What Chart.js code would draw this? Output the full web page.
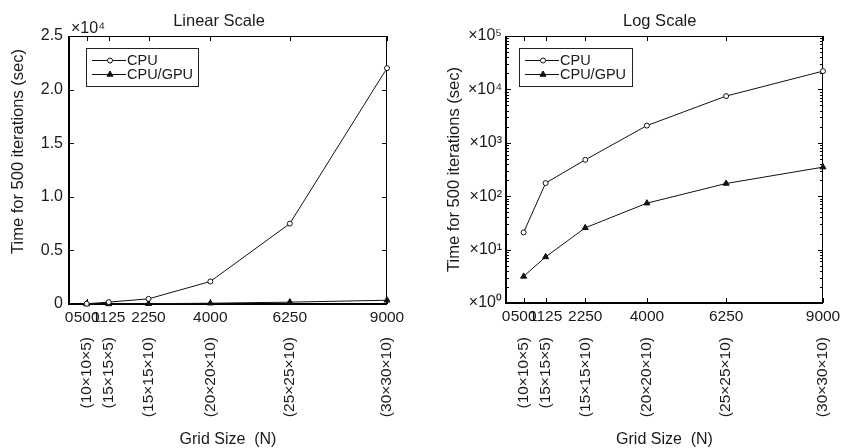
<!DOCTYPE html>
<html>
<head>
<meta charset="utf-8">
<script src="https://cdn.jsdelivr.net/npm/chart.js@4/dist/chart.umd.min.js"></script>
<style>
  html, body { margin: 0; padding: 0; background: #fff; }
  #wrap { display: flex; width: 842px; height: 448px; }
  canvas { display: block; }
</style>
</head>
<body>
<div id="wrap">
  <canvas id="linChart" width="421" height="448"></canvas>
  <canvas id="logChart" width="421" height="448"></canvas>
</div>
<script>
// ---- data ----
const gridN = [500, 1125, 2250, 4000, 6250, 9000];
const gridDims = ['(10×10×5)', '(15×15×5)', '(15×15×10)', '(20×20×10)', '(25×25×10)', '(30×30×10)'];
const cpuTime = [21, 176, 480, 2100, 7500, 22000];
const gpuTime = [3.15, 7.3, 25.6, 74, 173, 350];
const seriesNames = ['CPU', 'CPU/GPU'];
const xTickValues = [0, 500, 1125, 2250, 4000, 6250, 9000];
const linTicks = [0, 5000, 10000, 15000, 20000, 25000];
const logTicks = [1, 10, 100, 1000, 10000, 100000];

const FONT = "'Liberation Sans', Arial, sans-serif";
Chart.defaults.font.family = FONT;
Chart.defaults.color = '#1a1a1a';
Chart.defaults.animation = false;

const SUP = '⁰¹²³⁴⁵⁶⁷⁸⁹';
const pow10Label = v => '×10' + String(Math.round(Math.log10(v))).split('').map(d => SUP[+d]).join('');

const seriesPoints = ys => gridN.map((n, i) => ({ x: n, y: ys[i] }));

function makeDatasets() {
  return [
    {
      label: seriesNames[0], data: seriesPoints(cpuTime),
      borderColor: '#111', borderWidth: 1,
      pointStyle: 'circle', pointRadius: 2.5,
      pointBackgroundColor: '#fff', pointBorderColor: '#111', pointBorderWidth: 1
    },
    {
      label: seriesNames[1], data: seriesPoints(gpuTime),
      borderColor: '#111', borderWidth: 1,
      pointStyle: 'triangle', pointRadius: 3.5,
      pointBackgroundColor: '#111', pointBorderColor: '#111', pointBorderWidth: 1
    }
  ];
}

// box, inward ticks, titles and the boxed legend
const decor = {
  id: 'decor',
  beforeDatasetsDraw(chart, args, o) {
    const { ctx, chartArea: a } = chart;
    const xs = chart.scales.x, ys = chart.scales.y;
    ctx.save();
    ctx.strokeStyle = '#000';
    ctx.lineWidth = 1;
    ctx.beginPath();
    ctx.moveTo(a.left, a.top + 0.5); ctx.lineTo(a.right, a.top + 0.5);
    ctx.moveTo(a.right - 0.5, a.top); ctx.lineTo(a.right - 0.5, a.bottom);
    xs.ticks.forEach(t => {
      const px = Math.round(xs.getPixelForValue(t.value)) + 0.5;
      ctx.moveTo(px, a.bottom); ctx.lineTo(px, a.bottom - 5);
      ctx.moveTo(px, a.top); ctx.lineTo(px, a.top + 5);
    });
    const yTick = (v, len) => {
      const py = Math.round(ys.getPixelForValue(v)) + 0.5;
      ctx.moveTo(a.left, py); ctx.lineTo(a.left + len, py);
      ctx.moveTo(a.right, py); ctx.lineTo(a.right - len, py);
    };
    ys.ticks.forEach(t => yTick(t.value, 5));
    if (ys.type === 'logarithmic') {
      for (let d = ys.min; d < ys.max; d *= 10) {
        for (let m = 2; m < 10; m++) yTick(d * m, 3);
      }
    }
    ctx.stroke();
    ctx.lineWidth = 2;
    ctx.beginPath();
    ctx.moveTo(a.left, a.top); ctx.lineTo(a.left, a.bottom); ctx.lineTo(a.right, a.bottom);
    ctx.stroke();
    ctx.restore();
  },
  afterDraw(chart, args, o) {
    const { ctx } = chart;
    ctx.save();
    ctx.fillStyle = '#1a1a1a';
    ctx.textBaseline = 'middle';
    ctx.textAlign = 'center';
    ctx.font = `16.5px ${FONT}`;
    ctx.fillText(o.title, o.titleX, o.titleY);

    ctx.save();
    ctx.translate(o.yTitleX, o.yTitleY);
    ctx.rotate(-Math.PI / 2);
    ctx.fillText('Time for 500 iterations (sec)', 0, 0);
    ctx.restore();

    if (o.expText) {
      ctx.textAlign = 'left';
      ctx.textBaseline = 'alphabetic';
      ctx.font = `16px ${FONT}`;
      ctx.fillText(o.expText, o.expX, o.expY);
    }

    const lg = o.legend;
    ctx.fillStyle = '#fff';
    ctx.fillRect(lg.x, lg.y, lg.w, lg.h);
    ctx.strokeStyle = '#222';
    ctx.lineWidth = 1;
    ctx.strokeRect(lg.x + 0.5, lg.y + 0.5, lg.w, lg.h);
    ctx.font = `14.5px ${FONT}`;
    ctx.textAlign = 'left';
    ctx.textBaseline = 'middle';
    chart.data.datasets.forEach((ds, i) => {
      const cy = lg.y + 12.5 + i * 14;
      ctx.strokeStyle = ds.borderColor;
      ctx.beginPath();
      ctx.moveTo(lg.x + 6, cy); ctx.lineTo(lg.x + 40, cy);
      ctx.stroke();
      ctx.fillStyle = ds.pointBackgroundColor;
      ctx.strokeStyle = ds.pointBorderColor;
      Chart.helpers.drawPoint(ctx, { pointStyle: ds.pointStyle, radius: ds.pointRadius, borderWidth: 1, rotation: 0 }, lg.x + 24, cy);
      ctx.fillStyle = '#1a1a1a';
      ctx.fillText(ds.label, lg.x + 41, cy + 0.5);
    });
    ctx.restore();
  }
};

// keep the plot edge fixed: label overhang must not shrink the chart area
const fixHeight = h => s => { s.height = h; s.paddingLeft = 0; s.paddingRight = 0; };

function xAxes(x2Height, x2Pad) {
  return {
    x: {
      type: 'linear', position: 'bottom', weight: 0, min: 0, max: 9000,
      afterBuildTicks: s => { s.ticks = xTickValues.map(v => ({ value: v })); },
      afterFit: fixHeight(26),
      grid: { display: false, drawTicks: false }, border: { display: false },
      ticks: { autoSkip: false, minRotation: 0, maxRotation: 0, padding: 4, font: { size: 15.5 }, callback: v => String(v) }
    },
    x2: {
      type: 'linear', position: 'bottom', weight: 1, min: 0, max: 9000,
      afterBuildTicks: s => { s.ticks = gridN.map(v => ({ value: v })); },
      afterFit: fixHeight(x2Height),
      grid: { display: false, drawTicks: false }, border: { display: false },
      ticks: { autoSkip: false, minRotation: 90, maxRotation: 90, padding: x2Pad, font: { size: 15.5 }, callback: (v, i) => gridDims[i] },
      title: { display: true, text: 'Grid Size  (N)', font: { size: 16, lineHeight: 1 }, padding: { top: 0, bottom: 0 } }
    }
  };
}

new Chart(document.getElementById('linChart'), {
  type: 'line',
  data: { datasets: makeDatasets() },
  options: {
    responsive: false,
    clip: false,
    layout: { padding: { left: 0, top: 36, right: 34, bottom: 0 } },
    plugins: {
      legend: { display: false },
      tooltip: { enabled: false },
      decor: {
        title: 'Linear Scale', titleX: 219, titleY: 21,
        yTitleX: 18.5, yTitleY: 151.5,
        expText: '×10⁴', expX: 71, expY: 33,
        legend: { x: 86, y: 48, w: 112, h: 38 }
      }
    },
    scales: {
      ...xAxes(118, 7),
      y: {
        type: 'linear', min: 0, max: 25000,
        afterBuildTicks: s => { s.ticks = linTicks.map(v => ({ value: v })); },
        afterFit: s => { s.width = 69; },
        grid: { display: false, drawTicks: false }, border: { display: false },
        ticks: { padding: 6, font: { size: 16 }, callback: v => v === 0 ? '0' : (v / 1e4).toFixed(1) }
      }
    }
  },
  plugins: [decor]
});

new Chart(document.getElementById('logChart'), {
  type: 'line',
  data: { datasets: makeDatasets() },
  options: {
    responsive: false,
    clip: false,
    layout: { padding: { left: 0, top: 36, right: 19, bottom: 0 } },
    plugins: {
      legend: { display: false },
      tooltip: { enabled: false },
      decor: {
        title: 'Log Scale', titleX: 238.7, titleY: 21,
        yTitleX: 33, yTitleY: 169.5,
        legend: { x: 98, y: 48, w: 113, h: 38 }
      }
    },
    scales: {
      ...xAxes(119, 8),
      y: {
        type: 'logarithmic', min: 1, max: 100000,
        afterBuildTicks: s => { s.ticks = logTicks.map(v => ({ value: v })); },
        afterFit: s => { s.width = 85; },
        grid: { display: false, drawTicks: false }, border: { display: false },
        ticks: { padding: 4, font: { size: 16 }, callback: v => pow10Label(v) }
      }
    }
  },
  plugins: [decor]
});
</script>
</body>
</html>
